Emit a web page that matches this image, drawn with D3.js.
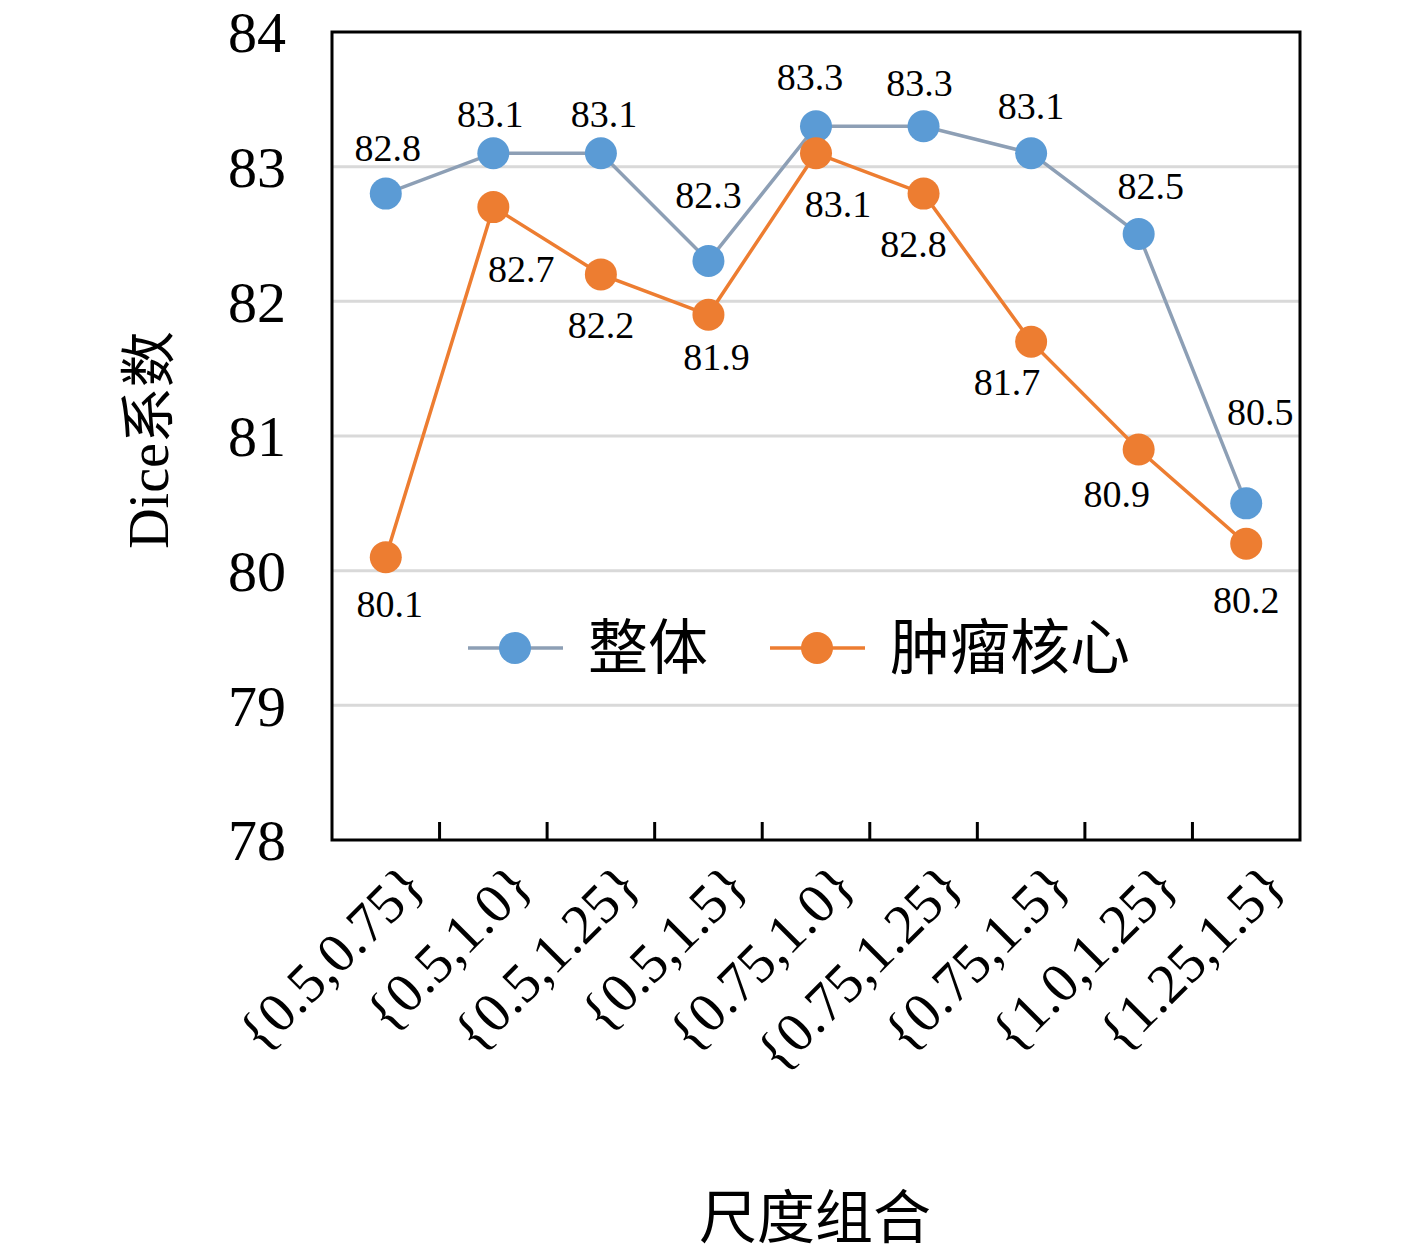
<!DOCTYPE html>
<html><head><meta charset="utf-8">
<script src="https://cdn.jsdelivr.net/npm/d3@7/dist/d3.min.js"></script>
<style>body{margin:0;background:#fff}</style>
</head><body>
<svg id="chart" width="1417" height="1259"></svg>
<script>
var categories = ["{0.5,0.75}","{0.5,1.0}","{0.5,1.25}","{0.5,1.5}","{0.75,1.0}","{0.75,1.25}","{0.75,1.5}","{1.0,1.25}","{1.25,1.5}"];
var whole = [82.8, 83.1, 83.1, 82.3, 83.3, 83.3, 83.1, 82.5, 80.5];
var core = [80.1, 82.7, 82.2, 81.9, 83.1, 82.8, 81.7, 80.9, 80.2];
var yTicks = [78, 79, 80, 81, 82, 83, 84];

// label offsets (style only)
var wholeOff = [[2,-46],[-3,-40],[3,-40],[0,-66],[-6,-50],[-4,-44],[0,-48],[12,-48],[14,-92]];
var coreOff = [[4,46],[28,62],[0,50],[8,42],[22,50],[-10,50],[-24,40],[-22,44],[0,56]];

var serif = "'Liberation Serif','DejaVu Serif',serif";
var cjk = "'Noto Sans CJK SC',sans-serif";
var svg = d3.select('#chart');
var L = 332, R = 1300, T = 32, B = 840;

var x = d3.scaleBand().domain(categories).range([L, R]);
var y = d3.scaleLinear().domain([78, 84]).range([B, T]);
var cx = d => x(d) + x.bandwidth()/2;

svg.selectAll('.grid').data(yTicks.filter(t => t > 78 && t < 84)).enter()
  .append('line').attr('x1', L).attr('x2', R)
  .attr('y1', d => y(d)).attr('y2', d => y(d))
  .attr('stroke', '#d9d9d9').attr('stroke-width', 3);

svg.append('rect').attr('x', L).attr('y', T).attr('width', R-L).attr('height', B-T)
  .attr('fill', 'none').attr('stroke', '#000').attr('stroke-width', 3);

svg.selectAll('.xt').data(categories.slice(1)).enter()
  .append('line').attr('x1', d => x(d)).attr('x2', d => x(d))
  .attr('y1', B).attr('y2', B-18).attr('stroke', '#000').attr('stroke-width', 3);

svg.selectAll('.yl').data(yTicks).enter().append('text')
  .attr('x', 286).attr('y', d => y(d)).attr('dy', '0.35em')
  .attr('text-anchor', 'end').attr('font-family', serif).attr('font-size', 58)
  .text(d => d);

svg.selectAll('.xl').data(categories).enter().append('text')
  .attr('transform', d => 'translate(' + (cx(d)+42) + ',' + (B+48) + ') rotate(-45)')
  .attr('text-anchor', 'end').attr('font-family', serif).attr('font-size', 56)
  .text(d => d);

svg.append('text').attr('x', 815).attr('y', 1238).attr('text-anchor', 'middle')
  .attr('font-family', cjk).attr('font-size', 58).text('尺度组合');
svg.append('text').attr('transform', 'translate(168,440) rotate(-90)')
  .attr('text-anchor', 'middle').attr('font-size', 56)
  .call(t => { t.append('tspan').attr('font-family', serif).text('Dice');
               t.append('tspan').attr('font-family', cjk).text('系数'); });

var series = [
  {vals: whole, line: '#8d9fb5', dot: '#5b9bd5', off: wholeOff},
  {vals: core, line: '#ed7d31', dot: '#ed7d31', off: coreOff}
];
var line = d3.line().x((d, i) => cx(categories[i])).y(d => y(d));
series.forEach(s => {
  svg.append('path').attr('d', line(s.vals)).attr('fill', 'none')
    .attr('stroke', s.line).attr('stroke-width', 3.5);
});
series.forEach(s => {
  svg.selectAll(null).data(s.vals).enter().append('circle')
    .attr('cx', (d, i) => cx(categories[i])).attr('cy', d => y(d)).attr('r', 16)
    .attr('fill', s.dot);
  svg.selectAll(null).data(s.vals).enter().append('text')
    .attr('x', (d, i) => cx(categories[i]) + s.off[i][0])
    .attr('y', (d, i) => y(d) + s.off[i][1]).attr('dy', '0.35em')
    .attr('text-anchor', 'middle').attr('font-family', serif).attr('font-size', 38)
    .text(d => d.toFixed(1));
});

var leg = [{name: '整体', s: series[0], x: 468}, {name: '肿瘤核心', s: series[1], x: 770}];
leg.forEach(l => {
  svg.append('line').attr('x1', l.x).attr('x2', l.x+95).attr('y1', 648).attr('y2', 648)
    .attr('stroke', l.s.line).attr('stroke-width', 3.5);
  svg.append('circle').attr('cx', l.x+47).attr('cy', 648).attr('r', 16).attr('fill', l.s.dot);
  svg.append('text').attr('x', l.x+120).attr('y', 648).attr('dy', '0.35em')
    .attr('font-family', cjk).attr('font-size', 60).text(l.name);
});
</script>
</body></html>
